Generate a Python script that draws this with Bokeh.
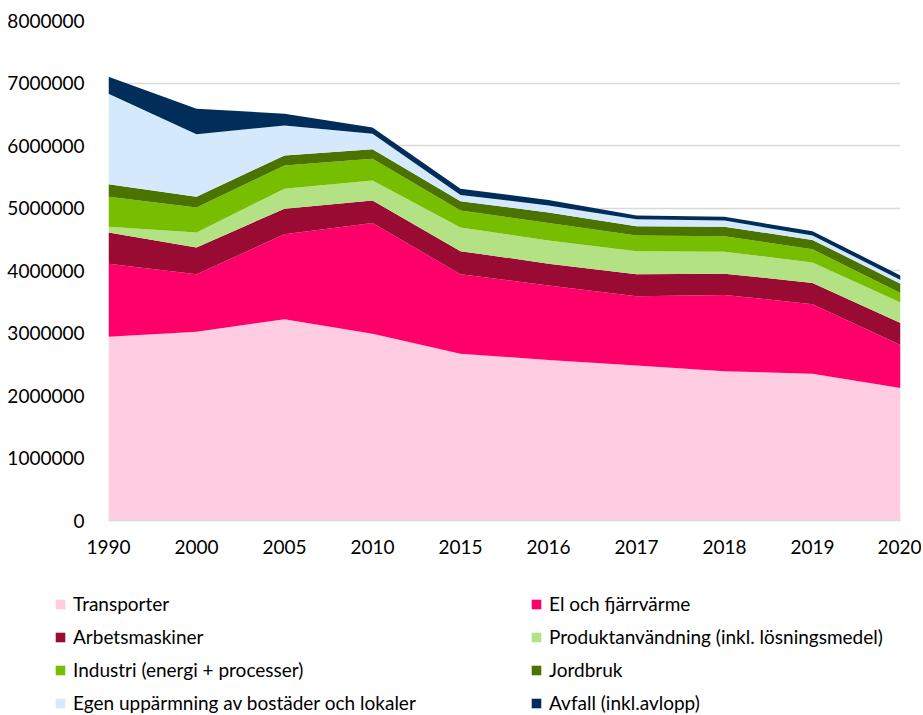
from bokeh.plotting import figure
from bokeh.layouts import column
from bokeh.models import ColumnDataSource, Range1d, FixedTicker, NumeralTickFormatter, Legend, LegendItem
from bokeh.embed import file_html
from bokeh.resources import INLINE

years = ["1990", "2000", "2005", "2010", "2015", "2016", "2017", "2018", "2019", "2020"]

transporter   = [2940000, 3020000, 3220000, 2990000, 2670000, 2570000, 2480000, 2390000, 2350000, 2120000]
el_fjarrvarme = [1170000,  920000, 1360000, 1770000, 1270000, 1190000, 1110000, 1220000, 1110000,  690000]
arbetsmaskiner = [500000,  430000,  410000,  360000,  370000,  350000,  350000,  340000,  340000,  350000]
produktanv    = [  90000,  240000,  320000,  320000,  380000,  370000,  370000,  350000,  330000,  330000]
industri      = [ 480000,  400000,  370000,  350000,  270000,  280000,  250000,  250000,  210000,  150000]
jordbruk      = [ 200000,  170000,  160000,  150000,  150000,  170000,  150000,  150000,  150000,  150000]
egen_uppv     = [1450000, 1000000,  480000,  250000,  100000,  110000,  110000,  100000,   70000,   60000]
avfall        = [ 270000,  410000,  190000,  100000,  100000,   90000,   60000,   60000,   70000,   70000]

labels = ["Transporter", "El och fjärrvärme", "Arbetsmaskiner",
          "Produktanvändning (inkl. lösningsmedel)", "Industri (energi + processer)",
          "Jordbruk", "Egen uppärmning av bostäder och lokaler", "Avfall (inkl.avlopp)"]
colors = ["#FFCCE1", "#FF006A", "#990B33", "#B3E284", "#77BE00", "#4A7300", "#D5E9FC", "#002D5A"]
y_ticks = [0, 1000000, 2000000, 3000000, 4000000, 5000000, 6000000, 7000000, 8000000]

keys = ["s%d" % i for i in range(8)]
data = dict(x=list(range(len(years))))
for k, vals in zip(keys, [transporter, el_fjarrvarme, arbetsmaskiner, produktanv,
                          industri, jordbruk, egen_uppv, avfall]):
    data[k] = vals
source = ColumnDataSource(data)

FONT = "Lato"
W = 921

p = figure(width=W, height=560, output_backend="svg", toolbar_location=None,
           x_range=Range1d(0, len(years) - 1), y_range=Range1d(0, 8000000),
           min_border_left=108, min_border_right=21, min_border_top=20, min_border_bottom=40)
p.outline_line_color = None

p.varea_stack(stackers=keys, x="x", color=colors, source=source)

p.xaxis.ticker = FixedTicker(ticks=list(range(len(years))))
p.xaxis.major_label_overrides = {i: y for i, y in enumerate(years)}
p.xaxis.axis_line_color = "#D9D9D9"
p.xaxis.axis_line_width = 1.5
p.xaxis.major_tick_line_color = None
p.xaxis.minor_tick_line_color = None
p.xaxis.major_label_standoff = 13
p.xaxis.major_label_text_font = FONT
p.xaxis.major_label_text_font_size = "19px"
p.xaxis.major_label_text_color = "#000000"

p.yaxis.ticker = FixedTicker(ticks=y_ticks)
p.yaxis.formatter = NumeralTickFormatter(format="0")
p.yaxis.axis_line_color = None
p.yaxis.major_tick_line_color = None
p.yaxis.minor_tick_line_color = None
p.yaxis.major_label_standoff = 18
p.yaxis.major_label_text_font = FONT
p.yaxis.major_label_text_font_size = "19px"
p.yaxis.major_label_text_color = "#000000"

p.xgrid.grid_line_color = None
p.ygrid.grid_line_color = "#D9D9D9"
p.ygrid.grid_line_width = 1.5

# legend panel below the chart (same stacked areas, scrolled out of view)
lf = figure(width=W, height=154, output_backend="svg", toolbar_location=None,
            x_axis_type=None, y_axis_type=None, min_border=0,
            x_range=Range1d(100, 101), y_range=Range1d(0, 1))
lf.outline_line_color = None
lf.xgrid.grid_line_color = None
lf.ygrid.grid_line_color = None
lrs = lf.varea_stack(stackers=keys, x="x", color=colors, source=source)
items = [LegendItem(label=lab, renderers=[r]) for lab, r in zip(labels, lrs)]
legend = Legend(items=items, location=(54, 0), orientation="horizontal", ncols=2,
                glyph_width=12, glyph_height=12, label_standoff=7, label_width=447,
                label_height=23, spacing=10, padding=0, margin=0,
                label_text_font=FONT, label_text_font_size="19px", label_text_color="#000000",
                border_line_color=None, background_fill_alpha=0)
lf.add_layout(legend, "center")

layout = column(p, column(lf, spacing=0), spacing=0)
open("out.html", "w").write(file_html(layout, INLINE))
